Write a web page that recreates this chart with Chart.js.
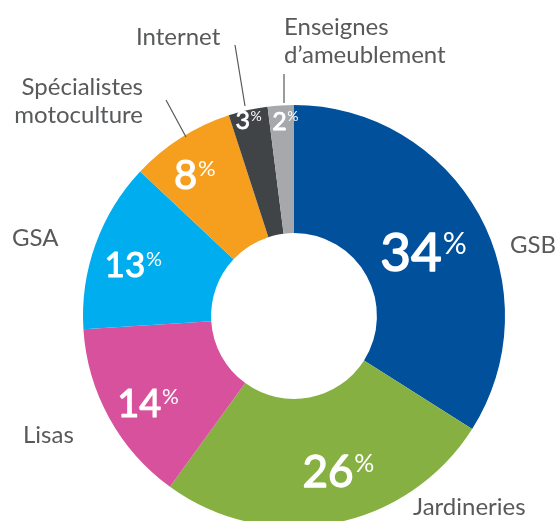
<!DOCTYPE html>
<html>
<head>
<meta charset="utf-8">
<script src="https://cdn.jsdelivr.net/npm/chart.js@4.4.1/dist/chart.umd.min.js"></script>
<style>
html,body{margin:0;padding:0;background:#fff;overflow:hidden;width:556px;height:521px;}
#wrap{position:absolute;left:0;top:0;width:556px;height:600px;}
</style>
</head>
<body>
<div id="wrap"><canvas id="c"></canvas></div>
<script>
// ---- data ----
const categories = ["GSB", "Jardineries", "Lisas", "GSA", "Spécialistes motoculture", "Internet", "Enseignes d’ameublement"];
const shares = [34, 26, 14, 13, 8, 3, 2];
const colors = ["#00509b", "#86b142", "#d8519c", "#00aeef", "#f69f1f", "#414446", "#a6a8ab"];

// inner value label placement: [radius fraction in ring, angle offset deg, digit font px]
const innerPlace = [[0.48, 2.6, 53], [0.61, -5.2, 44], [0.68, -2.0, 38], [0.67, -2.1, 35], [0.70, -2.7, 40], [0.92, -0.5, 25], [0.88, 1.1, 25]];
// outer category labels: [lines, x, y(first baseline), align]
const outerLabels = [
  [["GSB"], 510, 253, "left"],
  [["Jardineries"], 413, 515, "left"],
  [["Lisas"], 23, 443, "left"],
  [["GSA"], 12, 246, "left"],
  [["Spécialistes", "motoculture"], 143, 95, "right"],
  [["Internet"], 136, 45, "left"],
  [["Enseignes", "d’ameublement"], 284, 35, "left"]
];
const leaders = [[166, 100, 186, 137], [235, 45, 245, 106], [284, 74, 284, 103]];

const labelPlugin = {
  id: 'labels',
  afterDatasetsDraw(chart) {
    const ctx = chart.ctx;
    const meta = chart.getDatasetMeta(0);
    ctx.save();
    meta.data.forEach((arc, i) => {
      const p = arc.getProps(['x', 'y', 'startAngle', 'endAngle', 'innerRadius', 'outerRadius'], true);
      const [f, off, fs] = innerPlace[i];
      const a = (p.startAngle + p.endAngle) / 2 + off * Math.PI / 180;
      const r = p.innerRadius + f * (p.outerRadius - p.innerRadius);
      const cx = p.x + Math.cos(a) * r, cy = p.y + Math.sin(a) * r;
      const num = String(shares[i]);
      const pfs = Math.round(fs * 0.56);
      ctx.fillStyle = '#ffffff';
      ctx.strokeStyle = '#ffffff';
      ctx.lineJoin = 'round';
      ctx.textBaseline = 'alphabetic';
      ctx.textAlign = 'left';
      ctx.font = '400 ' + fs + 'px Lato';
      const wn = ctx.measureText(num).width;
      ctx.font = '400 ' + pfs + 'px Lato';
      const wp = ctx.measureText('%').width;
      const gap = fs * 0.02;
      const total = wn + gap + wp;
      const capH = fs * 0.72;
      const base = cy + capH / 2;
      const x0 = cx - total / 2;
      ctx.font = '400 ' + fs + 'px Lato';
      ctx.fillText(num, x0, base);
      ctx.lineWidth = fs * 0.03;
      ctx.strokeText(num, x0, base);
      ctx.font = '400 ' + pfs + 'px Lato';
      ctx.fillText('%', x0 + wn + gap, base - capH + pfs * 0.70);
    });
    ctx.fillStyle = '#58595b';
    ctx.font = '400 24px Lato';
    ctx.textBaseline = 'alphabetic';
    outerLabels.forEach(([lines, x, y, al]) => {
      ctx.textAlign = al;
      lines.forEach((t, k) => ctx.fillText(t, x, y + k * 28));
    });
    ctx.strokeStyle = '#58595b';
    ctx.lineWidth = 1.2;
    leaders.forEach(([x1, y1, x2, y2]) => {
      ctx.beginPath(); ctx.moveTo(x1, y1); ctx.lineTo(x2, y2); ctx.stroke();
    });
    ctx.restore();
  }
};

new Chart(document.getElementById('c'), {
  type: 'doughnut',
  data: {
    labels: categories,
    datasets: [{ data: shares, backgroundColor: colors, borderWidth: 0 }]
  },
  options: {
    responsive: true,
    maintainAspectRatio: false,
    animation: false,
    cutout: '39.3%',
    layout: { padding: { left: 83, right: 51, top: 105, bottom: 73 } },
    plugins: { legend: { display: false }, tooltip: { enabled: false } }
  },
  plugins: [labelPlugin]
});
</script>
</body>
</html>
